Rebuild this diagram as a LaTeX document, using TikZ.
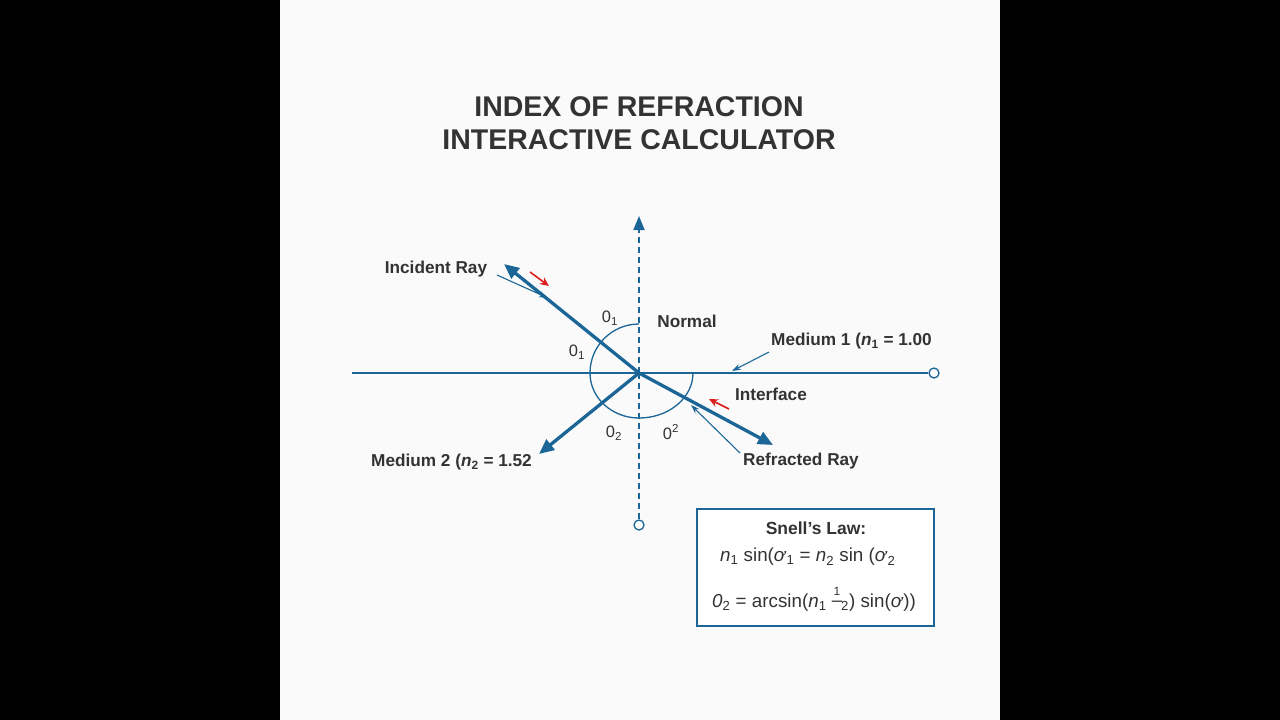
\documentclass[tikz,border=0pt]{standalone}
\usepackage{fontspec}
\setmainfont{Liberation Sans}
\usetikzlibrary{arrows.meta}
\definecolor{rayblue}{RGB}{27,102,150}
\definecolor{txt}{RGB}{51,51,51}
\definecolor{panel}{RGB}{250,250,250}
\definecolor{redarr}{RGB}{220,30,30}
\newcommand{\thsym}{\textit{ơ}}
\newcommand{\halffrac}{\makebox[0.55em]{\raisebox{0.62em}{\fontsize{12}{12}\selectfont 1}}\kern-0.55em\makebox[0.55em]{\raisebox{0.05em}{–}}\kern-0.05em\textsubscript{2}}
\begin{document}
\begin{tikzpicture}[x=1pt,y=-1pt,
  lbl/.style={inner sep=0pt,text=txt,font=\fontsize{17.2}{19}\selectfont\bfseries},
  ang/.style={inner sep=0pt,text=txt,font=\fontsize{16.5}{18}\selectfont},
  eq/.style={inner sep=0pt,text=txt,font=\fontsize{18.8}{21}\selectfont},
  ray/.style={draw=rayblue,line width=3.3pt,-{Triangle[length=15pt,width=13pt]}},
  leader/.style={draw=rayblue,line width=1.1pt,-{Stealth[length=9pt,width=6pt]}},
  redar/.style={draw=redarr,line width=1.6pt,-{Stealth[length=9pt,width=8pt]}},
  endc/.style={circle,draw=rayblue,line width=1.3pt,fill=white,minimum size=10pt,inner sep=0pt}]
\useasboundingbox (0,0) rectangle (1280,720);
\fill[black] (0,0) rectangle (1280,720);
\fill[panel] (280,0) rectangle (1000,720);
% title
\node[inner sep=0pt,text=txt,align=center,font=\fontsize{28.5}{33}\selectfont\bfseries] (title) at (639,123) {INDEX OF REFRACTION\\INTERACTIVE CALCULATOR};
% geometry
\coordinate (C) at (639,373);
\coordinate (L) at (352,373);
\node[endc] (R) at (934,373) {};
\node[endc] (B) at (639,525) {};
\coordinate (T) at (639,216);
\coordinate (inc) at (504,264);
\coordinate (refr) at (773,445);
\coordinate (low) at (539,454);
% normal
\draw[rayblue,line width=1.8pt,dash pattern=on 6pt off 4pt] (B.north) -- (C);
\draw[rayblue,line width=1.8pt,dash pattern=on 6pt off 4pt,-{Triangle[length=14pt,width=11pt]}] (C) -- (T);
% interface
\draw[rayblue,line width=2.6pt] (L) -- (R.west);
% arc (top -> left -> bottom -> right)
\draw[rayblue,line width=1.3pt] (639,324) arc[start angle=270,end angle=180,radius=49]
  arc[start angle=180,end angle=90,x radius=49,y radius=45]
  arc[start angle=90,end angle=0,x radius=54,y radius=45];
% rays
\draw[ray] (C) -- (inc);
\draw[ray] (C) -- (refr);
\draw[ray] (C) -- (low);
% labels
\node[lbl] (incl) at (436,269) {Incident Ray};
\node[lbl] (norm) at (687,321) {Normal};
\node[lbl,anchor=west] (m1) at (771,341) {Medium 1 (\textit{n}\textsubscript{1} = 1.00};
\node[lbl] (intf) at (771,394) {Interface};
\node[lbl] (refl) at (801,461) {Refracted Ray};
\node[lbl,anchor=west] (m2) at (371,462) {Medium 2 (\textit{n}\textsubscript{2} = 1.52};
% angle labels
\node[ang] (a1) at (610,318) {0\textsubscript{1}};
\node[ang] (a2) at (577,352) {0\textsubscript{1}};
\node[ang] (a3) at (614,433) {0\textsubscript{2}};
\node[ang] (a4) at (671,432) {0\textsuperscript{2}};
% leaders
\coordinate (li1) at (497,275);
\coordinate (li2) at (548,298);
\draw[leader] (li1) -- (li2);
\coordinate (lm1) at (769,352);
\coordinate (lm2) at (732,371);
\draw[leader] (lm1) -- (lm2);
\coordinate (lr1) at (740,453);
\coordinate (lr2) at (691,405);
\draw[leader] (lr1) -- (lr2);
% red arrows
\coordinate (ra1) at (530,272);
\coordinate (ra2) at (549,286);
\draw[redar] (ra1) -- (ra2);
\coordinate (rb1) at (729,409);
\coordinate (rb2) at (709,399);
\draw[redar] (rb1) -- (rb2);
% Snell box
\node[draw=rayblue,line width=2pt,fill=white,minimum width=237pt,minimum height=117pt,inner sep=0pt] (box) at (815.5,567.5) {};
\node[inner sep=0pt,text=txt,font=\fontsize{17.5}{20}\selectfont\bfseries] (snell) at (816,528) {Snell’s Law:};
\node[eq,anchor=west] (eq1) at (720,557) {\textit{n}\textsubscript{1} sin(\thsym\textsubscript{1} = \textit{n}\textsubscript{2} sin (\thsym\textsubscript{2}};
\node[eq,anchor=west] (eq2) at (712,599) {\textit{0}\textsubscript{2} = arcsin(\textit{n}\textsubscript{1} \halffrac) sin(\thsym))};
\end{tikzpicture}
\end{document}
